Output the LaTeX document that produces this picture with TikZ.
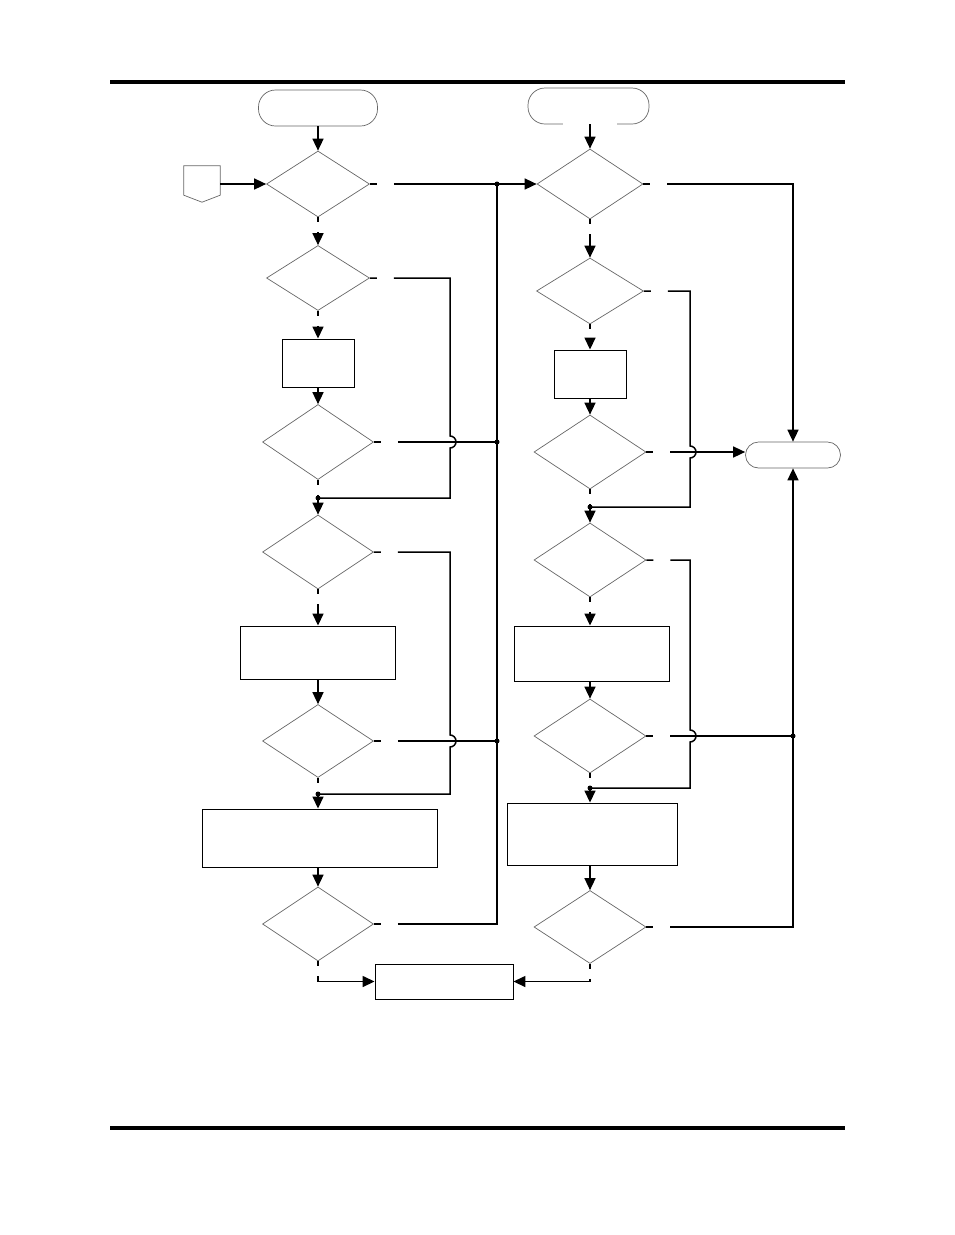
\documentclass[tikz,border=0pt]{standalone}
\usetikzlibrary{shapes.geometric,arrows.meta,calc}
\begin{document}
\begin{tikzpicture}[x=1pt,y=-1pt,
  dec/.style={diamond,draw=black!60,line width=0.7pt,inner sep=0pt},
  procbox/.style={rectangle,draw=black,line width=0.9pt,inner sep=0pt},
  term/.style={rectangle,rounded corners=13pt,draw=black!60,line width=0.7pt,inner sep=0pt},
  conn/.style={line width=1.5pt,line join=miter},
  arr/.style={conn,-{Triangle[length=12pt,width=11pt]}},
  vgap/.style={dash pattern=on 5pt off 10pt on 3000pt},
  hgap/.style={dash pattern=on 7pt off 17pt on 3000pt},
  dot/.style={circle,fill=black,inner sep=0pt,minimum size=5pt}
]
\useasboundingbox (0,0) rectangle (954,1235);
% page rules
\draw[line width=4pt] (110,82) -- (845,82);
\draw[line width=4pt] (110,1128) -- (845,1128);

% column coordinates
\coordinate (la) at (450,0);
\coordinate (lj) at (497,0);
\coordinate (ra) at (690,0);
\coordinate (rj) at (793,0);

% left column
\node[term,minimum width=119pt,minimum height=36pt,rounded corners=17pt] (t1) at (318,108) {};
\node[dec,minimum width=103pt,minimum height=66pt] (d1) at (318,184) {};
\node[dec,minimum width=103pt,minimum height=65pt] (d2) at (318,278) {};
\node[procbox,minimum width=72pt,minimum height=48pt] (b1) at (318,363) {};
\node[dec,minimum width=111pt,minimum height=75pt] (d3) at (318,442) {};
\node[dec,minimum width=111pt,minimum height=74pt] (d4) at (318,552) {};
\node[procbox,minimum width=155pt,minimum height=53pt] (b2) at (318,652.5) {};
\node[dec,minimum width=111pt,minimum height=73pt] (d5) at (318,741) {};
\node[procbox,minimum width=235pt,minimum height=58pt] (b3) at (319.5,838) {};
\node[dec,minimum width=111pt,minimum height=74pt] (d6) at (318,924) {};
\node[procbox,minimum width=138pt,minimum height=35pt] (b4) at (444,981.5) {};

% off-page connector
\node[minimum width=36pt,minimum height=36pt,inner sep=0pt] (op) at (202,184) {};
\draw[black!60,line width=0.7pt] (op.north west) -- (op.north east) -- ([yshift=7pt]op.south east) -- (op.south) -- ([yshift=7pt]op.south west) -- cycle;

% right column
\node[term,minimum width=121pt,minimum height=36pt,rounded corners=17pt] (t2) at (588.5,106) {};
\draw[white,line width=2pt] (563,124) -- (617,124);
\node[dec,minimum width=106pt,minimum height=70pt] (e1) at (590,184) {};
\node[dec,minimum width=107pt,minimum height=66pt] (e2) at (590,291) {};
\node[procbox,minimum width=72pt,minimum height=48pt] (f1) at (590,374) {};
\node[dec,minimum width=112pt,minimum height=74pt] (e3) at (590,452) {};
\node[dec,minimum width=112pt,minimum height=74pt] (e4) at (590,560) {};
\node[procbox,minimum width=155pt,minimum height=55pt] (f2) at (591.5,653.5) {};
\node[dec,minimum width=112pt,minimum height=74pt] (e5) at (590,736) {};
\node[procbox,minimum width=170pt,minimum height=62pt] (f3) at (592,834) {};
\node[dec,minimum width=112pt,minimum height=73pt] (e6) at (590,927) {};
\node[term,minimum width=95pt,minimum height=26pt] (t3) at (793,455) {};

% merge and junction points
\coordinate (m1) at (318,498);
\coordinate (m2) at (318,794);
\coordinate (m3) at (590,507);
\coordinate (m4) at (590,788);
\coordinate (j1) at (497,184);
\coordinate (j2) at (497,442);
\coordinate (j3) at (497,741);
\coordinate (j4) at (793,736);

% left vertical flow
\draw[arr] (t1.south) -- (d1.north);
\draw[arr,vgap] (d1.south) -- (d2.north);
\draw[arr,vgap] (d2.south) -- (b1.north);
\draw[arr] (b1.south) -- (d3.north);
\draw[arr,vgap] (d3.south) -- (d4.north);
\draw[arr,vgap] (d4.south) -- (b2.north);
\draw[arr] (b2.south) -- (d5.north);
\draw[arr,vgap] (d5.south) -- (b3.north -| d5.south);
\draw[arr] (b3.south -| d6.north) -- (d6.north);
\draw[arr,vgap] (d6.south) -- (d6.south |- b4.west) -- (b4.west);

% right vertical flow
\draw[arr] (t2.south -| e1.north) -- (e1.north);
\draw[arr,vgap] (e1.south) -- (e2.north);
\draw[arr,vgap] (e2.south) -- (f1.north);
\draw[arr] (f1.south) -- (e3.north);
\draw[arr,vgap] (e3.south) -- (e4.north);
\draw[arr,vgap] (e4.south) -- (f2.north -| e4.south);
\draw[arr] (f2.south -| e5.north) -- (e5.north);
\draw[arr,vgap] (e5.south) -- (f3.north -| e5.south);
\draw[arr] (f3.south -| e6.north) -- (e6.north);
\draw[arr,vgap] (e6.south) -- (e6.south |- b4.east) -- (b4.east);

% left horizontal connectors
\draw[arr] (op.east) -- (d1.west);
\draw[arr,hgap] (d1.east) -- (j1) -- (e1.west);
\draw[conn,hgap] (d2.east) -- (la |- d2.east) -- ([yshift=6pt]la |- d3.east)
  arc[start angle=90,end angle=-90,radius=6pt] -- (la |- m1) -- (m1);
\draw[conn,hgap] (d3.east) -- (j2);
\draw[conn,hgap] (d4.east) -- (la |- d4.east) -- ([yshift=6pt]la |- d5.east)
  arc[start angle=90,end angle=-90,radius=6pt] -- (la |- m2) -- (m2);
\draw[conn,hgap] (d5.east) -- (j3);
\draw[conn,hgap] (d6.east) -- (lj |- d6.east) -- (j1);

% right horizontal connectors
\draw[arr,hgap] (e1.east) -- (rj |- e1.east) -- (t3.north);
\draw[conn,hgap] (e2.east) -- (ra |- e2.east) -- ([yshift=6pt]ra |- e3.east)
  arc[start angle=90,end angle=-90,radius=6pt] -- (ra |- m3) -- (m3);
\draw[arr,hgap] (e3.east) -- (e3.east -| t3.west);
\draw[conn,hgap] (e4.east) -- (ra |- e4.east) -- ([yshift=6pt]ra |- e5.east)
  arc[start angle=90,end angle=-90,radius=6pt] -- (ra |- m4) -- (m4);
\draw[conn,hgap] (e5.east) -- (j4);
\draw[arr,hgap] (e6.east) -- (rj |- e6.east) -- (t3.south);

% junction dots
\node[dot] (m1dot) at (m1) {};
\node[dot] (m2dot) at (m2) {};
\node[dot] (m3dot) at (m3) {};
\node[dot] (m4dot) at (m4) {};
\node[dot] (j1dot) at (j1) {};
\node[dot] (j2dot) at (j2) {};
\node[dot] (j3dot) at (j3) {};
\node[dot] (j4dot) at (j4) {};
\end{tikzpicture}
\end{document}
